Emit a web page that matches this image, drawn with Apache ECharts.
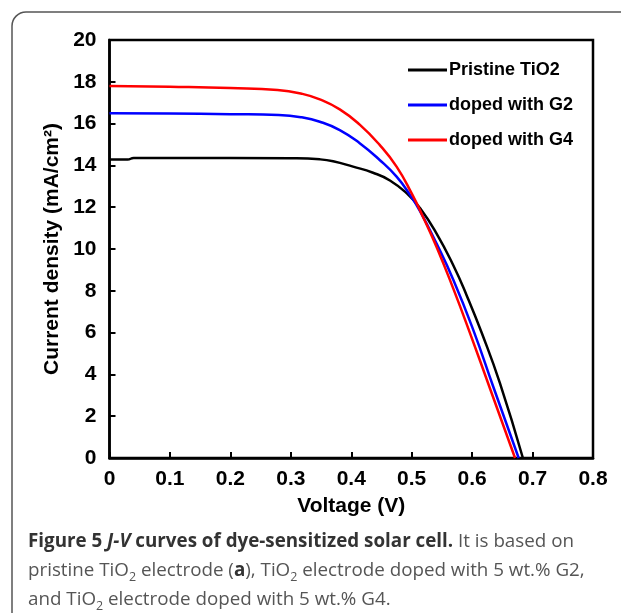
<!DOCTYPE html>
<html>
<head>
<meta charset="utf-8">
<script src="https://cdn.jsdelivr.net/npm/echarts@6/dist/echarts.min.js"></script>
<style>
html, body { margin: 0; padding: 0; background: #fff; }
#jvChart { width: 621px; height: 613px; }
</style>
</head>
<body>
<div id="jvChart"></div>
<script>
// series names
var seriesNames = ['Pristine TiO2', 'doped with G2', 'doped with G4'];

// Pristine TiO2 (V, mA/cm2)
var pristineV = [0, 0.03, 0.04, 0.1, 0.2, 0.3, 0.348, 0.37, 0.403, 0.436, 0.464, 0.492, 0.514, 0.541, 0.569, 0.591, 0.616, 0.646, 0.684];
var pristineJ = [14.28, 14.28, 14.36, 14.36, 14.36, 14.34, 14.29, 14.2, 13.94, 13.65, 13.28, 12.66, 11.95, 10.75, 9.21, 7.78, 5.98, 3.58, 0];

// doped with G2
var g2V = [0, 0.1, 0.2, 0.28, 0.318, 0.348, 0.381, 0.414, 0.447, 0.475, 0.497, 0.514, 0.541, 0.569, 0.602, 0.635, 0.677];
var g2J = [16.49, 16.48, 16.45, 16.41, 16.3, 16.09, 15.69, 15.06, 14.26, 13.46, 12.6, 11.8, 10.27, 8.52, 6.12, 3.41, 0];

// doped with G4
var g4V = [0, 0.1, 0.2, 0.278, 0.318, 0.348, 0.381, 0.414, 0.447, 0.475, 0.5, 0.519, 0.541, 0.569, 0.596, 0.63, 0.671];
var g4J = [17.8, 17.76, 17.7, 17.61, 17.43, 17.16, 16.68, 15.95, 14.98, 13.94, 12.66, 11.52, 10.11, 8.09, 6.01, 3.29, 0];

var xTicks = [0, 0.1, 0.2, 0.3, 0.4, 0.5, 0.6, 0.7, 0.8];
var yTicks = [0, 2, 4, 6, 8, 10, 12, 14, 16, 18, 20];

function pairs(xs, ys) {
	var out = [];
	for (var i = 0; i < xs.length; i++) out.push([xs[i], ys[i]]);
	return out;
}

var jvChart = echarts.init(document.getElementById('jvChart'));
var fontMain = 'Liberation Sans, Arial, sans-serif';
var fontCap = 'Open Sans, Liberation Sans, sans-serif';

var jvChart_option = {
	backgroundColor: '#fff',
	animation: false,
	grid: {
		left: 109.5, right: 28, top: 40, bottom: 155,
		show: true, borderColor: '#000', borderWidth: 2.5
	},
	legend: {
		orient: 'vertical',
		left: 403, top: 56,
		icon: 'rect',
		itemWidth: 39, itemHeight: 3, itemGap: 17,
		data: seriesNames,
		textStyle: { fontFamily: fontMain, fontWeight: 'bold', fontSize: 18, color: '#000', padding: [0, 0, 0, -3] }
	},
	xAxis: {
		type: 'value',
		min: xTicks[0], max: xTicks[xTicks.length - 1], interval: 0.1,
		name: 'Voltage (V)', nameLocation: 'middle', nameGap: 38,
		nameTextStyle: { fontFamily: fontMain, fontWeight: 'bold', fontSize: 21, color: '#000' },
		axisLine: { lineStyle: { color: '#000', width: 2.5 } },
		axisTick: { inside: true, length: 6, lineStyle: { color: '#000', width: 2 } },
		axisLabel: {
			fontFamily: fontMain, fontWeight: 'bold', fontSize: 21, color: '#000', margin: 11,
			formatter: function (v) { return String(Math.round(v * 10) / 10); }
		},
		splitLine: { show: false }
	},
	yAxis: {
		type: 'value',
		min: yTicks[0], max: yTicks[yTicks.length - 1], interval: 2,
		name: 'Current density (mA/cm²)', nameLocation: 'middle', nameGap: 47, nameRotate: 90,
		nameTextStyle: { fontFamily: fontMain, fontWeight: 'bold', fontSize: 21, color: '#000' },
		axisLine: { lineStyle: { color: '#000', width: 2.5 } },
		axisTick: { inside: true, length: 6, lineStyle: { color: '#000', width: 2 } },
		axisLabel: { fontFamily: fontMain, fontWeight: 'bold', fontSize: 21, color: '#000', margin: 13 },
		splitLine: { show: false }
	},
	series: [
		{
			name: seriesNames[0], type: 'line', smooth: 0.5, symbol: 'none',
			data: pairs(pristineV, pristineJ), lineStyle: { color: '#000', width: 2.5 }, itemStyle: { color: '#000' }, z: 3
		},
		{
			name: seriesNames[1], type: 'line', smooth: 0.5, symbol: 'none',
			data: pairs(g2V, g2J), lineStyle: { color: '#0000ff', width: 2.5 }, itemStyle: { color: '#0000ff' }, z: 4
		},
		{
			name: seriesNames[2], type: 'line', smooth: 0.5, symbol: 'none',
			data: pairs(g4V, g4J), lineStyle: { color: '#ff0000', width: 2.5 }, itemStyle: { color: '#ff0000' }, z: 5
		}
	],
	graphic: [
		{
			type: 'rect', z: -1, silent: true,
			shape: { x: 12, y: 12, width: 660, height: 660, r: 14 },
			style: { fill: 'none', stroke: '#555', lineWidth: 1.5 }
		},
		{
			type: 'text', left: 28, top: 532,
			style: {
				text: '{b|Figure 5 }{bi|J-V}{b| curves of dye-sensitized solar cell.}{n| It is based on}',
				rich: {
					b: { fontFamily: fontCap, fontWeight: 'bold', fontSize: 18.8, fill: '#333' },
					bi: { fontFamily: fontCap, fontWeight: 'bold', fontStyle: 'italic', fontSize: 18.8, fill: '#333' },
					n: { fontFamily: fontCap, fontSize: 18.8, fill: '#555' }
				}
			}
		},
		{
			type: 'text', left: 28, top: 561,
			style: {
				text: '{n|pristine TiO}{s|2}{n| electrode (}{b|a}{n|), TiO}{s|2}{n| electrode doped with 5 wt.% G2,}',
				rich: {
					b: { fontFamily: fontCap, fontWeight: 'bold', fontSize: 18.8, fill: '#333', lineHeight: 27 },
					n: { fontFamily: fontCap, fontSize: 18.8, fill: '#555', lineHeight: 27 },
					s: { fontFamily: fontCap, fontSize: 12.5, fill: '#555', lineHeight: 12, verticalAlign: 'bottom' }
				}
			}
		},
		{
			type: 'text', left: 28, top: 590,
			style: {
				text: '{n|and TiO}{s|2}{n| electrode doped with 5 wt.% G4.}',
				rich: {
					n: { fontFamily: fontCap, fontSize: 18.8, fill: '#555', lineHeight: 27 },
					s: { fontFamily: fontCap, fontSize: 12.5, fill: '#555', lineHeight: 12, verticalAlign: 'bottom' }
				}
			}
		}
	]
};
jvChart.setOption(jvChart_option);
</script>
</body>
</html>
